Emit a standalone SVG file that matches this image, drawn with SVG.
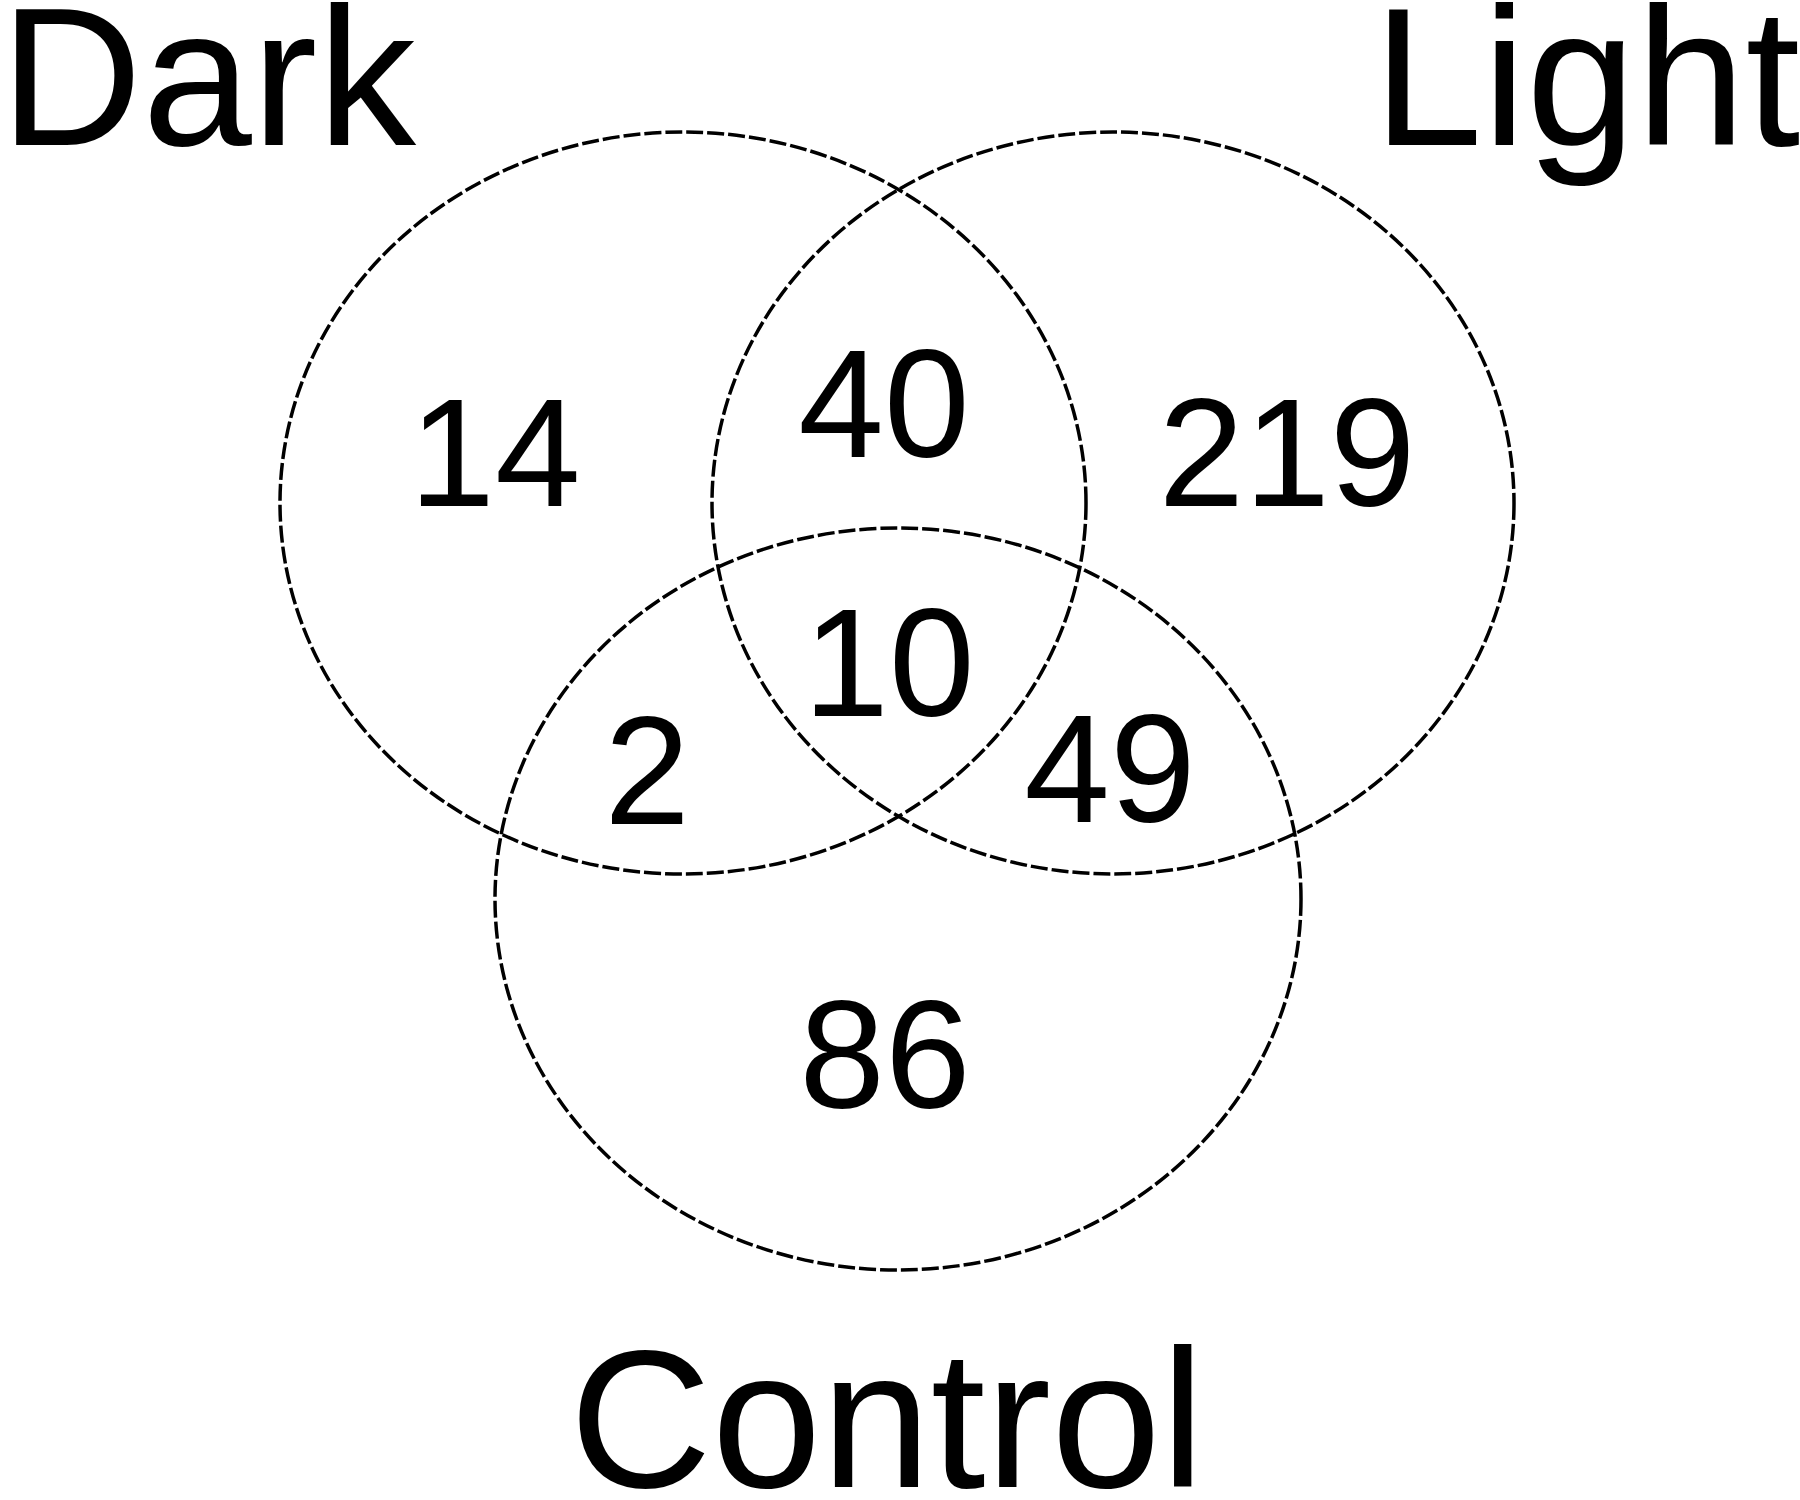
<svg xmlns="http://www.w3.org/2000/svg" width="1800" height="1500" viewBox="0 0 1800 1500">
<style>
.set{fill:none;stroke:#000;stroke-width:3.5;stroke-dasharray:17 4}
.title{font-family:"Liberation Sans",Arial,sans-serif;font-size:197px;fill:#000}
.num{font-family:"Liberation Sans",Arial,sans-serif;font-size:154px;fill:#000;text-anchor:middle}
</style>
<rect width="1800" height="1500" fill="#fff"/>
<g id="connectors"></g>
<g id="dark">
<ellipse class="set" cx="683" cy="503" rx="403" ry="371"/>
<text class="title" x="0" y="145">Dark</text>
</g>
<g id="light">
<ellipse class="set" cx="1113" cy="503" rx="401" ry="371"/>
<text class="title" x="1373" y="145">Light</text>
</g>
<g id="control">
<ellipse class="set" cx="898" cy="899" rx="403" ry="371"/>
<text class="title" x="887" y="1487" text-anchor="middle">Control</text>
</g>
<g id="counts">
<text class="num" x="495" y="506">14</text>
<text class="num" x="884" y="457">40</text>
<text class="num" x="1287" y="506">219</text>
<text class="num" x="889" y="716">10</text>
<text class="num" x="647" y="824">2</text>
<text class="num" x="1110" y="822">49</text>
<text class="num" x="885" y="1108">86</text>
</g>
</svg>
